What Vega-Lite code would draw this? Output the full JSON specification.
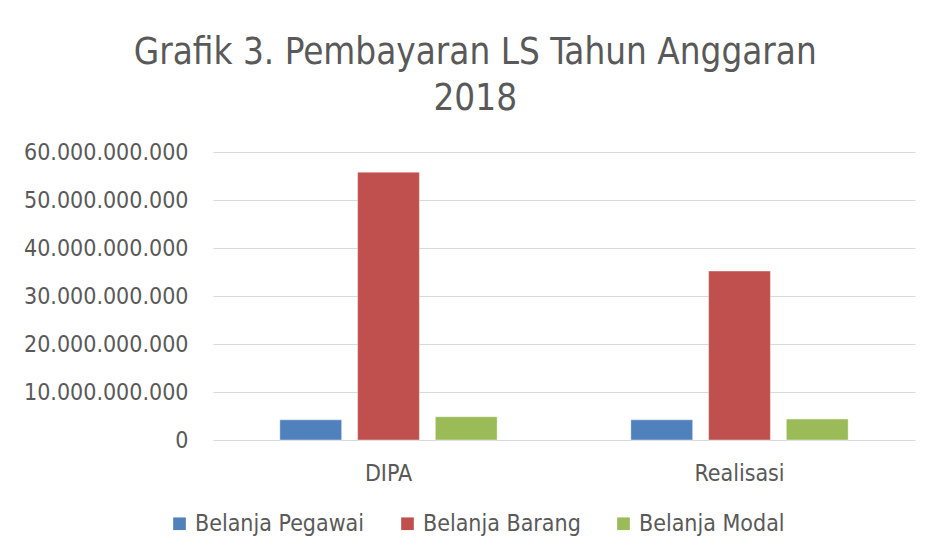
{
  "$schema": "https://vega.github.io/schema/vega-lite/v6.json",
  "width": 702,
  "height": 288,
  "autosize": {"type": "none"},
  "padding": {"left": 213, "top": 152, "right": 16, "bottom": 115},
  "background": "white",
  "title": {
    "text": ["Grafik 3. Pembayaran LS Tahun Anggaran", "2018"],
    "font": "DejaVu Sans Condensed",
    "fontSize": 36.5,
    "fontWeight": "normal",
    "color": "#595959",
    "lineHeight": 46,
    "anchor": "middle",
    "frame": "bounds",
    "dx": 6,
    "offset": 24
  },
  "data": {
    "values": [
      {"kategori": "DIPA", "jenis": "Belanja Pegawai", "nilai": 4200000000},
      {"kategori": "DIPA", "jenis": "Belanja Barang", "nilai": 55800000000},
      {"kategori": "DIPA", "jenis": "Belanja Modal", "nilai": 4850000000},
      {"kategori": "Realisasi", "jenis": "Belanja Pegawai", "nilai": 4200000000},
      {"kategori": "Realisasi", "jenis": "Belanja Barang", "nilai": 35200000000},
      {"kategori": "Realisasi", "jenis": "Belanja Modal", "nilai": 4350000000}
    ]
  },
  "mark": {"type": "bar", "stroke": "#ffffff", "strokeOpacity": 0.4, "strokeWidth": 1},
  "encoding": {
    "x": {
      "field": "kategori",
      "type": "nominal",
      "sort": ["DIPA", "Realisasi"],
      "scale": {"paddingInner": 0, "paddingOuter": 0},
      "axis": {
        "title": null,
        "labelAngle": 0,
        "domain": false,
        "ticks": false,
        "labelFont": "DejaVu Sans Condensed",
        "labelFontSize": 23,
        "labelColor": "#595959",
        "labelPadding": 22
      }
    },
    "xOffset": {
      "field": "jenis",
      "type": "nominal",
      "sort": ["Belanja Pegawai", "Belanja Barang", "Belanja Modal"],
      "scale": {"paddingInner": 0.205, "paddingOuter": 0.86}
    },
    "y": {
      "field": "nilai",
      "type": "quantitative",
      "scale": {"domain": [0, 60000000000], "nice": false},
      "axis": {
        "title": null,
        "values": [0, 10000000000, 20000000000, 30000000000, 40000000000, 50000000000, 60000000000],
        "labelExpr": "replace(format(datum.value, ',.0f'), /,/g, '.')",
        "domain": false,
        "ticks": false,
        "labelFont": "DejaVu Sans Condensed",
        "labelFontSize": 23,
        "labelColor": "#595959",
        "labelPadding": 25,
        "gridColor": "#d9d9d9",
        "gridWidth": 1
      }
    },
    "color": {
      "field": "jenis",
      "type": "nominal",
      "sort": ["Belanja Pegawai", "Belanja Barang", "Belanja Modal"],
      "scale": {
        "domain": ["Belanja Pegawai", "Belanja Barang", "Belanja Modal"],
        "range": ["#4f81bd", "#c0504d", "#9bbb59"]
      },
      "legend": {
        "title": null,
        "orient": "none",
        "direction": "horizontal",
        "legendX": -45,
        "legendY": 360,
        "symbolType": "square",
        "symbolSize": 160,
        "symbolStrokeWidth": 0,
        "labelFont": "DejaVu Sans Condensed",
        "labelFontSize": 23,
        "labelColor": "#595959",
        "labelOffset": 4,
        "columnPadding": 31,
        "labelLimit": 300
      }
    }
  },
  "config": {
    "view": {"stroke": null}
  }
}
